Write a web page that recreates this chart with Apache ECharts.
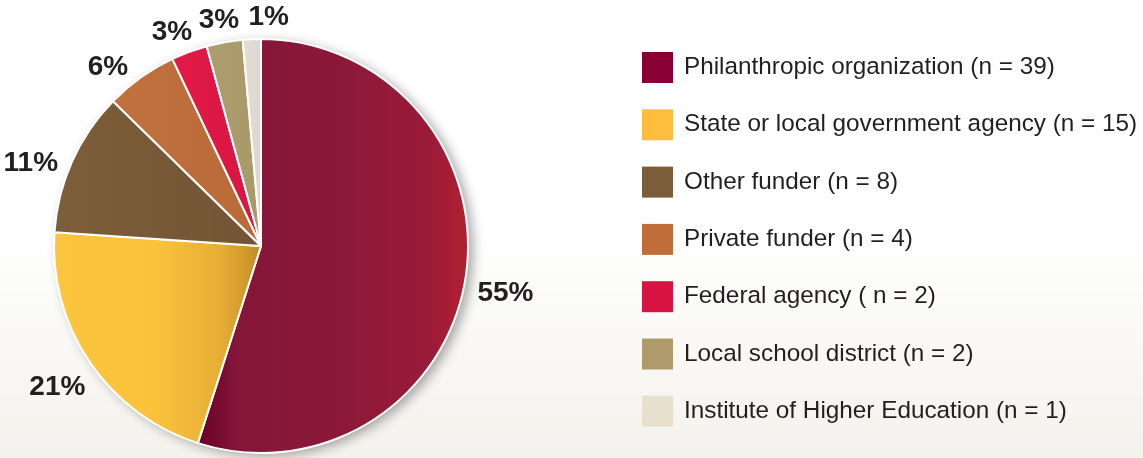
<!DOCTYPE html>
<html>
<head>
<meta charset="utf-8">
<script src="https://cdn.jsdelivr.net/npm/echarts@6/dist/echarts.min.js"></script>
<style>
html,body{margin:0;padding:0;background:#fff;}
#chart{width:1143px;height:458px;}
</style>
</head>
<body>
<div id="chart"></div>
<script>
// ---- data ----
const categories = [
  'Philanthropic organization (n = 39)',
  'State or local government agency (n = 15)',
  'Other funder (n = 8)',
  'Private funder (n = 4)',
  'Federal agency ( n = 2)',
  'Local school district (n = 2)',
  'Institute of Higher Education (n = 1)'
];
const counts = [39, 15, 8, 4, 2, 2, 1];

// ---- styles ----
const legendColors = ['#8b0034', '#fdbe3d', '#7b5d3a', '#bf6e3a', '#d71440', '#ae9a6a', '#e6e0cc'];
const sliceStops = [
  [[0, '#680024'], [0.15, '#84163a'], [0.6, '#8e1938'], [0.85, '#9a1b38'], [1, '#b41f31']],
  [[0, '#fdc53d'], [0.5, '#fac23b'], [0.8, '#e6ae36'], [1, '#c48a28']],
  [[0, '#7d5e3a'], [1, '#735434']],
  [[0, '#c1713e'], [1, '#b86a38']],
  [[0, '#e21a49'], [1, '#d81541']],
  [[0, '#ae9e6f'], [1, '#a89968']],
  [[0, '#e2ded4'], [1, '#dcd8cd']]
];
// small label nudges (px) to mimic the original label placement
const labelNudge = [[0, 9], [-2, 4], [-3, 19], [-16, 14], [-8, 6], [-1, 4], [18, 4]];

function grad(stops) {
  return { type: 'linear', x: 0, y: 0, x2: 1, y2: 0,
    colorStops: stops.map(s => ({ offset: s[0], color: s[1] })) };
}

const CX = 261, CY = 246, R = 207, GAP = 11;
const total = counts.reduce((a, b) => a + b, 0);
const midAngles = [];
(function () { let acc = 0; counts.forEach(v => { midAngles.push((acc + v / 2) / total * 2 * Math.PI); acc += v; }); })();

const chart = echarts.init(document.getElementById('chart'));
chart.setOption({
  backgroundColor: { type: 'linear', x: 0, y: 0, x2: 0, y2: 1,
    colorStops: [{ offset: 0, color: '#ffffff' }, { offset: 0.5, color: '#ffffff' }, { offset: 1, color: '#f3f2ed' }] },
  animation: false,
  legend: {
    orient: 'vertical', left: 642, top: 52, padding: 0,
    itemWidth: 31, itemHeight: 31, itemGap: 26.3, icon: 'rect',
    selectedMode: false,
    itemStyle: { borderWidth: 0 },
    textStyle: { fontFamily: 'Liberation Sans', fontSize: 24.3, lineHeight: 28, color: '#231f20', padding: [0, 0, 0, 6] },
    data: categories.map((c, i) => ({ name: c, itemStyle: { color: legendColors[i], borderWidth: 0 } }))
  },
  series: [
    {
      type: 'pie', silent: true, center: [CX, CY], radius: R, startAngle: 90,
      label: { show: false }, labelLine: { show: false },
      itemStyle: { color: '#ffffff', shadowBlur: 12, shadowOffsetX: 5, shadowOffsetY: 3, shadowColor: 'rgba(0,0,0,0.35)' },
      data: [{ name: '_backdrop', value: 1 }]
    },
    {
      type: 'pie', center: [CX, CY], radius: R, startAngle: 90, clockwise: true,
      avoidLabelOverlap: false,
      itemStyle: { borderColor: '#ffffff', borderWidth: 2 },
      label: {
        show: true, position: 'outside',
        fontFamily: 'Liberation Sans', fontSize: 28, lineHeight: 28, fontWeight: 'bold', color: '#231f20',
        formatter: p => Math.round(p.percent) + '%'
      },
      labelLine: { show: false, length: 10, length2: 0 },
      labelLayout: function (params) {
        const i = params.dataIndex;
        const a = midAngles[i];
        const dx = Math.sin(a), dy = -Math.cos(a);
        const w = params.labelRect.width / 2, h = params.labelRect.height / 2;
        const t = Math.min(Math.abs(dx) > 1e-6 ? w / Math.abs(dx) : 1e9, Math.abs(dy) > 1e-6 ? h / Math.abs(dy) : 1e9);
        const rr = R + 1 + GAP + t;
        return { x: CX + dx * rr + labelNudge[i][0], y: CY + dy * rr + labelNudge[i][1], align: 'center', verticalAlign: 'middle' };
      },
      data: categories.map((c, i) => ({ name: c, value: counts[i], itemStyle: { color: grad(sliceStops[i]) } }))
    }
  ]
});
</script>
</body>
</html>
